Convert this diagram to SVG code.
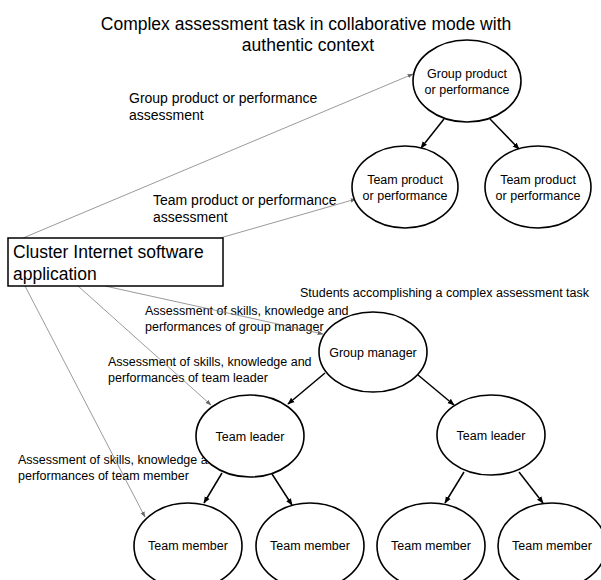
<svg xmlns="http://www.w3.org/2000/svg" width="601" height="580" viewBox="0 0 601 580">
<defs>
<marker id="ah" viewBox="0 0 10 10" refX="9" refY="5" markerWidth="7" markerHeight="7" orient="auto" markerUnits="userSpaceOnUse">
<path d="M0,1 L10,5 L0,9 z" fill="#000"/>
</marker>
<marker id="ahg" viewBox="0 0 10 10" refX="9" refY="5" markerWidth="6" markerHeight="6" orient="auto" markerUnits="userSpaceOnUse">
<path d="M0,1.5 L10,5 L0,8.5 z" fill="#666"/>
</marker>
<style>
text{font-family:"Liberation Sans",Arial,sans-serif;fill:#000}
.n ellipse{fill:#fff;stroke:#000;stroke-width:1.6}
.n text{font-size:12.5px;text-anchor:middle}
.title{font-size:17.5px;text-anchor:middle}
.lbl{font-size:14px}
.sm{font-size:12.5px}
.arr{stroke:#000;stroke-width:1.5;fill:none;marker-end:url(#ah)}
.thin{stroke:#808080;stroke-width:0.8;fill:none;marker-end:url(#ahg)}
</style>
</defs>
<rect width="601" height="580" fill="#fff"/>
<text class="title" x="306" y="30">Complex assessment task in collaborative mode with</text>
<text class="title" x="308" y="51">authentic context</text>
<text class="lbl" x="129" y="103">Group product or performance</text>
<text class="lbl" x="129" y="120">assessment</text>
<text class="lbl" x="153" y="205">Team product or performance</text>
<text class="lbl" x="153" y="222">assessment</text>
<text class="sm" x="300" y="297">Students accomplishing a complex assessment task</text>
<text class="sm" x="145" y="315">Assessment of skills, knowledge and</text>
<text class="sm" x="145" y="331">performances of group manager</text>
<text class="sm" x="108" y="366">Assessment of skills, knowledge and</text>
<text class="sm" x="108" y="382">performances of team leader</text>
<text class="sm" x="18" y="464">Assessment of skills, knowledge and</text>
<text class="sm" x="18" y="480">performances of team member</text>
<g id="connectors">
<line class="arr" x1="444" y1="119" x2="421" y2="148"/>
<line class="arr" x1="490" y1="119" x2="519" y2="149"/>
<line class="arr" x1="325" y1="373" x2="288" y2="404"/>
<line class="arr" x1="418" y1="375" x2="454" y2="405"/>
<line class="arr" x1="222" y1="473" x2="204" y2="503"/>
<line class="arr" x1="272" y1="474" x2="292" y2="505"/>
<line class="arr" x1="464" y1="472" x2="445" y2="503"/>
<line class="arr" x1="519" y1="472" x2="543" y2="503"/>
<line class="thin" x1="23" y1="238" x2="413" y2="74"/>
<line class="thin" x1="220" y1="238" x2="356" y2="199"/>
<line class="thin" x1="105" y1="286" x2="323" y2="334"/>
<line class="thin" x1="78" y1="286" x2="211" y2="405"/>
<line class="thin" x1="25" y1="286" x2="145" y2="517"/>
</g>
<g id="cluster">
<rect x="8" y="238" width="215" height="48" fill="#fff" stroke="#000" stroke-width="1.5"/>
<text x="13" y="258" style="font-size:17.5px">Cluster Internet software</text>
<text x="13" y="280" style="font-size:17.5px">application</text>
</g>
<g id="group-product" class="n"><ellipse cx="467" cy="81" rx="54" ry="41"/><text x="467" y="78">Group product</text><text x="467" y="94">or performance</text></g>
<g id="team-product-1" class="n"><ellipse cx="405" cy="187" rx="53" ry="41"/><text x="405" y="184">Team product</text><text x="405" y="200">or performance</text></g>
<g id="team-product-2" class="n"><ellipse cx="538" cy="187" rx="53" ry="41"/><text x="538" y="184">Team product</text><text x="538" y="200">or performance</text></g>
<g id="group-manager" class="n"><ellipse cx="373" cy="352" rx="54" ry="40"/><text x="373" y="357">Group manager</text></g>
<g id="team-leader-1" class="n"><ellipse cx="250" cy="436" rx="54" ry="41"/><text x="250" y="441">Team leader</text></g>
<g id="team-leader-2" class="n"><ellipse cx="491" cy="435" rx="54" ry="40"/><text x="491" y="440">Team leader</text></g>
<g id="team-member-1" class="n"><ellipse cx="188" cy="546" rx="54" ry="43"/><text x="188" y="550">Team member</text></g>
<g id="team-member-2" class="n"><ellipse cx="310" cy="546" rx="54" ry="43"/><text x="310" y="550">Team member</text></g>
<g id="team-member-3" class="n"><ellipse cx="431" cy="546" rx="54" ry="43"/><text x="431" y="550">Team member</text></g>
<g id="team-member-4" class="n"><ellipse cx="552" cy="546" rx="54" ry="43"/><text x="552" y="550">Team member</text></g>
</svg>
